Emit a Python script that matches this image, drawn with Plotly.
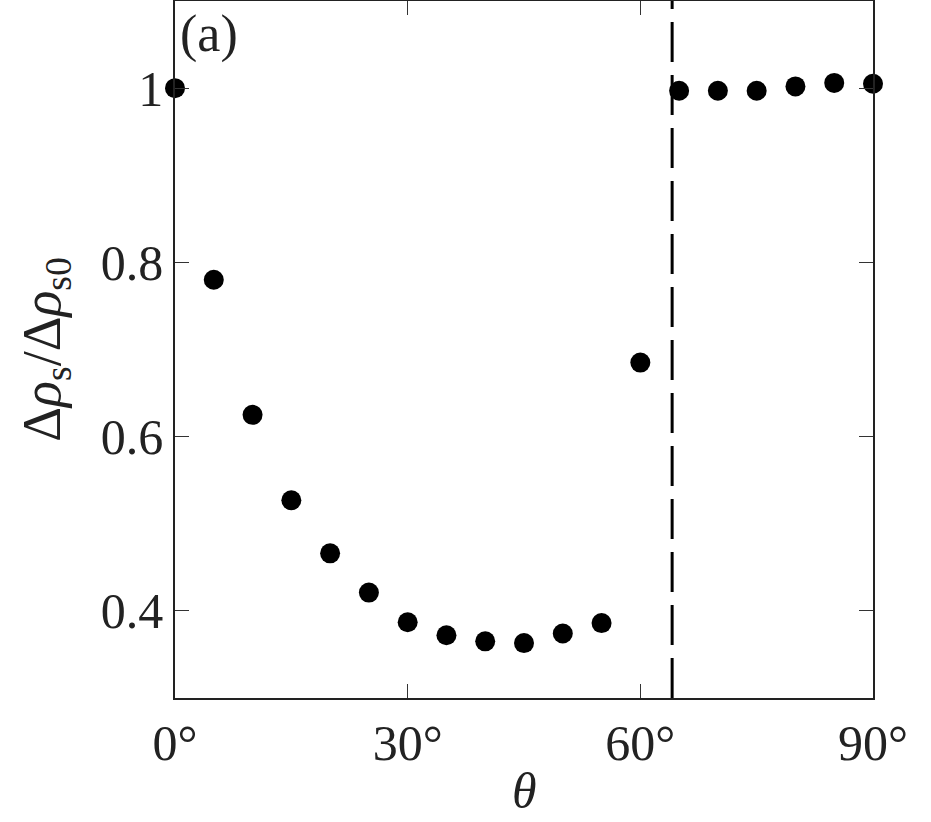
import plotly.graph_objects as go

theta = [0, 5, 10, 15, 20, 25, 30, 35, 40, 45, 50, 55, 60, 65, 70, 75, 80, 85, 90]
ratio = [1.000, 0.780, 0.625, 0.527, 0.466, 0.421, 0.387, 0.372, 0.365, 0.363,
         0.374, 0.386, 0.685, 0.997, 0.997, 0.997, 1.002, 1.006, 1.005]
theta_c = 64.1

x_ticks = [0, 30, 60, 90]
x_labels = ["0°", "30°", "60°", "90°"]
y_ticks = [0.4, 0.6, 0.8, 1.0]
y_labels = ["0.4", "0.6", "0.8", "1"]

font = "Liberation Serif"
ink = '#222222'

fig = go.Figure()

fig.add_trace(go.Scatter(
    x=[theta_c, theta_c],
    y=[0.3, 1.1],
    mode='lines',
    line=dict(color='black', width=3, dash='40px,13px'),
    showlegend=False
))

fig.add_trace(go.Scatter(
    x=theta,
    y=ratio,
    mode='markers',
    marker=dict(color='black', size=20),
    showlegend=False,
    cliponaxis=False
))

axis_style = dict(
    showline=True,
    linecolor=ink,
    linewidth=1.5,
    mirror='ticks',
    ticks='inside',
    ticklen=14,
    tickwidth=1.2,
    tickcolor='#333333',
    showgrid=False,
    zeroline=False,
    automargin=False,
    tickfont=dict(family=font, size=50, color=ink),
)

fig.update_layout(
    width=931,
    height=822,
    plot_bgcolor='white',
    paper_bgcolor='white',
    margin=dict(l=175, r=58, t=1, b=124),
    xaxis=dict(range=[0, 90], tickvals=x_ticks, ticktext=x_labels, **axis_style),
    yaxis=dict(range=[0.3, 1.1], tickvals=y_ticks, ticktext=y_labels, **axis_style),
    annotations=[
        dict(text="(a)", xref='paper', yref='paper', x=0.005, y=0.997,
             xanchor='left', yanchor='top', showarrow=False,
             font=dict(family=font, size=52, color=ink)),
        dict(text="<i>θ</i>", xref='paper', yref='paper', x=0.5, y=-0.133,
             xanchor='center', yanchor='middle', showarrow=False,
             font=dict(family=font, size=50, color=ink)),
        dict(text="Δ<i>ρ</i><sub>s</sub>/Δ<i>ρ</i><sub>s0</sub>", xref='paper', yref='paper',
             x=-0.186, y=0.5, xanchor='center', yanchor='middle', textangle=-90,
             showarrow=False, font=dict(family=font, size=54, color=ink)),
    ]
)

# drop the browser's default page margin so the figure sits at the corner
fig.write_html("out.html", config={'displayModeBar': False},
               post_script="document.body.style.margin='0';")
